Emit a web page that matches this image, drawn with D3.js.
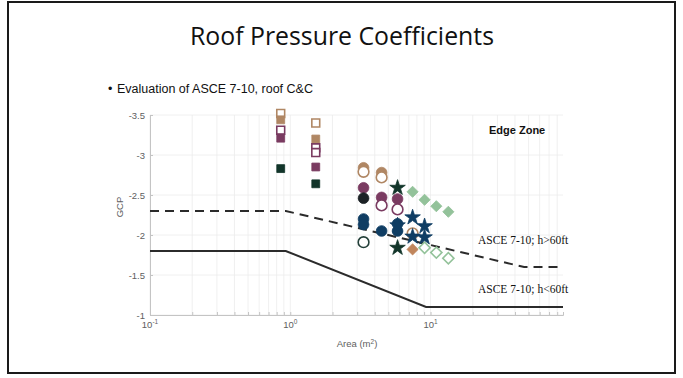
<!DOCTYPE html>
<html>
<head>
<meta charset="utf-8">
<script src="https://cdn.jsdelivr.net/npm/d3@7"></script>
<style>
  html, body { margin: 0; padding: 0; background: #fff; }
  svg { display: block; }
</style>
</head>
<body>
<svg id="slide" width="683" height="378"></svg>
<script>
// ---- axis ticks ----
const areaTicks = [0.1, 1, 10];
const areaTickExp = ["-1", "0", "1"];
const gcpTicks = [-3.5, -3, -2.5, -2, -1.5, -1];

// ---- ASCE 7-10 code curves (area in m^2, GCp) ----
const asceLowArea = [0.1, 0.929, 9.29, 88];
const asceLowGcp = [-1.8, -1.8, -1.1, -1.1];
const asceHighArea = [0.1, 0.929, 46.45, 88];
const asceHighGcp = [-2.3, -2.3, -1.6, -1.6];

// ---- measured peak coefficients ----
const tanSqOpenArea = [0.855, 1.52];
const tanSqOpenGcp = [-3.52, -3.40];
const tanSqArea = [0.855, 1.52];
const tanSqGcp = [-3.44, -3.20];
const plumSqOpenArea = [0.855, 1.52, 1.52];
const plumSqOpenGcp = [-3.31, -3.09, -3.03];
const plumSqArea = [0.855, 1.52];
const plumSqGcp = [-3.21, -2.85];
const greenSqArea = [0.855, 1.52];
const greenSqGcp = [-2.83, -2.64];

const tanCircArea = [3.33, 4.48];
const tanCircGcp = [-2.84, -2.78];
const tanCircOpenArea = [3.33, 4.48, 7.45];
const tanCircOpenGcp = [-2.79, -2.72, -2.02];
const plumCircArea = [3.33, 4.48, 5.82];
const plumCircGcp = [-2.59, -2.47, -2.45];
const plumCircOpenArea = [4.48, 5.82];
const plumCircOpenGcp = [-2.37, -2.32];
const blackCircArea = [3.33];
const blackCircGcp = [-2.46];
const blueCircArea = [3.33, 3.33, 4.48, 5.82, 5.82];
const blueCircGcp = [-2.20, -2.13, -2.05, -2.14, -2.05];
const darkCircOpenArea = [3.33];
const darkCircOpenGcp = [-1.91];

const greenStarArea = [5.82, 5.82];
const greenStarGcp = [-2.59, -1.84];
const blueStarArea = [5.82, 7.45, 7.45, 9.07, 9.07];
const blueStarGcp = [-2.12, -2.22, -1.98, -2.11, -1.97];

const sageDiaArea = [7.45, 9.07, 11.0, 13.4];
const sageDiaGcp = [-2.54, -2.44, -2.36, -2.29];
const sageDiaOpenArea = [9.07, 11.0, 13.4];
const sageDiaOpenGcp = [-1.84, -1.78, -1.71];
const tanDiaArea = [7.45];
const tanDiaGcp = [-1.82];

// ---- palette ----
const cTan = "#b08764";
const cPlum = "#7a3b61";
const cGreen = "#12352a";
const cBlue = "#0f3d63";
const cBlack = "#1c2226";
const cSage = "#93c29a";
const cCopper = "#c0855c";

const series = [
  { a: tanSqOpenArea, g: tanSqOpenGcp, shape: "square", color: cTan, open: true },
  { a: tanSqArea, g: tanSqGcp, shape: "square", color: cTan },
  { a: plumSqOpenArea, g: plumSqOpenGcp, shape: "square", color: cPlum, open: true },
  { a: plumSqArea, g: plumSqGcp, shape: "square", color: cPlum },
  { a: greenSqArea, g: greenSqGcp, shape: "square", color: cGreen },
  { a: tanCircArea, g: tanCircGcp, shape: "circle", color: cTan },
  { a: tanCircOpenArea, g: tanCircOpenGcp, shape: "circle", color: cTan, open: true },
  { a: plumCircArea, g: plumCircGcp, shape: "circle", color: cPlum },
  { a: plumCircOpenArea, g: plumCircOpenGcp, shape: "circle", color: cPlum, open: true },
  { a: blackCircArea, g: blackCircGcp, shape: "circle", color: cBlack },
  { a: blueCircArea, g: blueCircGcp, shape: "circle", color: cBlue },
  { a: darkCircOpenArea, g: darkCircOpenGcp, shape: "circle", color: "#24403a", open: true },
  { a: sageDiaArea, g: sageDiaGcp, shape: "diamond", color: cSage },
  { a: sageDiaOpenArea, g: sageDiaOpenGcp, shape: "diamond", color: cSage, open: true },
  { a: tanDiaArea, g: tanDiaGcp, shape: "diamond", color: cCopper },
  { a: greenStarArea, g: greenStarGcp, shape: "star", color: cGreen },
  { a: blueStarArea, g: blueStarGcp, shape: "star", color: cBlue }
];

const svg = d3.select("#slide");

// slide frame
svg.append("rect")
  .attr("x", 8).attr("y", 2).attr("width", 667).attr("height", 371)
  .attr("fill", "#fff").attr("stroke", "#1a1a1a").attr("stroke-width", 2);

// slide title and bullet
svg.append("text")
  .attr("x", 342).attr("y", 45)
  .attr("text-anchor", "middle")
  .attr("font-family", "'Open Sans', Lato, sans-serif")
  .attr("font-size", 26)
  .attr("textLength", 304).attr("lengthAdjust", "spacingAndGlyphs")
  .attr("fill", "#111")
  .text("Roof Pressure Coefficients");

svg.append("text")
  .attr("x", 108).attr("y", 93)
  .attr("font-family", "'Liberation Sans', Arial, sans-serif")
  .attr("font-size", 12.5)
  .attr("fill", "#111")
  .text("•");
svg.append("text")
  .attr("x", 117).attr("y", 93)
  .attr("font-family", "'Liberation Sans', Arial, sans-serif")
  .attr("font-size", 12.5)
  .attr("fill", "#111")
  .text("Evaluation of ASCE 7-10, roof C&C");

// ---- chart ----
const x = d3.scaleLog().domain([0.1, 88]).range([150, 563]);
const y = d3.scaleLinear().domain([-3.5, -1]).range([115, 315]);

const plot = svg.append("g");

// grid
const minorAreas = [];
[0.1, 1, 10].forEach(d => { for (let k = 1; k <= 9; k++) { const v = d * k; if (v <= 88) minorAreas.push(v); } });
plot.append("g").selectAll("line").data(minorAreas).join("line")
  .attr("x1", d => x(d)).attr("x2", d => x(d))
  .attr("y1", y(-3.5)).attr("y2", y(-1))
  .attr("stroke", "#ececec").attr("stroke-width", 0.8);
plot.append("g").selectAll("line").data(gcpTicks).join("line")
  .attr("x1", x(0.1)).attr("x2", x(88))
  .attr("y1", d => y(d)).attr("y2", d => y(d))
  .attr("stroke", "#ececec").attr("stroke-width", 0.8);

// axes
const axisColor = "#c4c4c4";
const labelColor = "#606060";
const xAxis = plot.append("g").attr("transform", `translate(0,${y(-1)})`)
  .call(d3.axisBottom(x).tickValues(minorAreas).tickSize(-3).tickFormat(""));
const yAxis = plot.append("g").attr("transform", `translate(${x(0.1)},0)`)
  .call(d3.axisLeft(y).tickValues(gcpTicks).tickSize(-3).tickFormat(""));
[xAxis, yAxis].forEach(a => {
  a.select(".domain").attr("stroke", axisColor).attr("stroke-width", 1);
  a.selectAll(".tick line").attr("stroke", axisColor);
});

// y tick labels
plot.append("g").selectAll("text").data(gcpTicks).join("text")
  .attr("x", 145).attr("y", d => y(d) + 3.5)
  .attr("text-anchor", "end")
  .attr("font-family", "'Liberation Sans', Arial, sans-serif")
  .attr("font-size", 9.5).attr("fill", labelColor)
  .text(d => d3.format("")(d).replace("−", "-"));

// x tick labels: 10 with superscript exponent
const xt = plot.append("g").selectAll("text").data(areaTicks).join("text")
  .attr("x", d => x(d)).attr("y", 328)
  .attr("text-anchor", "middle")
  .attr("font-family", "'Liberation Sans', Arial, sans-serif")
  .attr("font-size", 9.5).attr("fill", labelColor);
xt.append("tspan").text("10");
xt.append("tspan").attr("dy", -4).attr("font-size", 6.5).text((d, i) => areaTickExp[i]);

// axis titles
const xl = plot.append("text")
  .attr("x", 357).attr("y", 347)
  .attr("text-anchor", "middle")
  .attr("font-family", "'Liberation Sans', Arial, sans-serif")
  .attr("font-size", 9.5).attr("fill", labelColor);
xl.append("tspan").text("Area (m");
xl.append("tspan").attr("dy", -3.5).attr("font-size", 6.5).text("2");
xl.append("tspan").attr("dy", 3.5).text(")");

plot.append("text")
  .attr("transform", "translate(123,207) rotate(-90)")
  .attr("text-anchor", "middle")
  .attr("font-family", "'Liberation Sans', Arial, sans-serif")
  .attr("font-size", 9.5).attr("fill", labelColor)
  .text("GCP");

// ASCE curves
const line = d3.line().x(d => x(d[0])).y(d => y(d[1]));
plot.append("path")
  .datum(d3.zip(asceLowArea, asceLowGcp))
  .attr("d", line).attr("fill", "none")
  .attr("stroke", "#2b2b2b").attr("stroke-width", 2);
plot.append("path")
  .datum(d3.zip(asceHighArea, asceHighGcp))
  .attr("d", line).attr("fill", "none")
  .attr("stroke", "#2b2b2b").attr("stroke-width", 2)
  .attr("stroke-dasharray", "9,6");

// markers
const symbolFor = {
  square: d3.symbol().type(d3.symbolSquare).size(62),
  circle: d3.symbol().type(d3.symbolCircle).size(90),
  diamond: d3.symbol().type(d3.symbolSquare).size(62),
  star: d3.symbol().type(d3.symbolStar).size(75)
};
series.forEach(s => {
  plot.append("g").selectAll("path").data(d3.zip(s.a, s.g)).join("path")
    .attr("d", symbolFor[s.shape])
    .attr("transform", d => `translate(${x(d[0])},${y(d[1])})` + (s.shape === "diamond" ? " rotate(45)" : ""))
    .attr("fill", s.open ? "#fff" : s.color)
    .attr("stroke", s.color)
    .attr("stroke-width", s.open ? 1.6 : 0.8);
});

// annotations
plot.append("text")
  .attr("x", 489).attr("y", 134)
  .attr("font-family", "'Liberation Sans', Arial, sans-serif")
  .attr("font-weight", "bold").attr("font-size", 11)
  .attr("fill", "#111").text("Edge Zone");
plot.append("text")
  .attr("x", 478).attr("y", 244)
  .attr("font-family", "'Liberation Serif', 'Times New Roman', serif")
  .attr("font-size", 11.5).attr("fill", "#111")
  .text("ASCE 7-10; h>60ft");
plot.append("text")
  .attr("x", 478).attr("y", 293)
  .attr("font-family", "'Liberation Serif', 'Times New Roman', serif")
  .attr("font-size", 11.5).attr("fill", "#111")
  .text("ASCE 7-10; h<60ft");
</script>
</body>
</html>
